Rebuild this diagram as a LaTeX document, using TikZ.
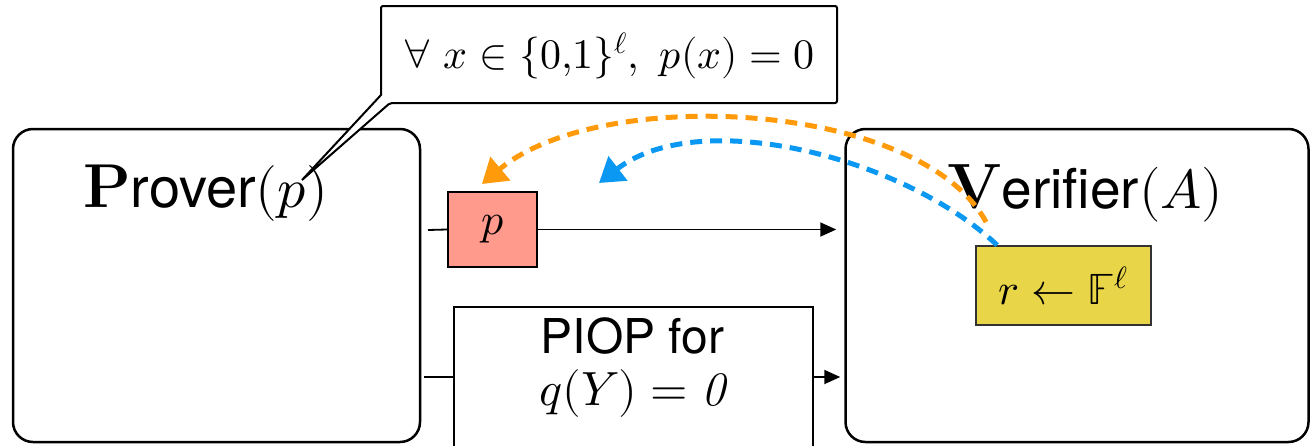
\documentclass[tikz,border=0pt]{standalone}
\usepackage{fontspec}
\usepackage{unicode-math}
\setmathfont{Latin Modern Math}
\setsansfont{TeX Gyre Heros}
\usetikzlibrary{arrows.meta,calc}
\definecolor{salmon}{HTML}{FF9A8C}
\definecolor{ybox}{HTML}{E8D548}
\definecolor{oarc}{HTML}{FF9A0A}
\definecolor{barc}{HTML}{0A98F2}
\begin{document}
\begin{tikzpicture}[x=1pt,y=-1pt,
  party/.style={draw,line width=2.5pt,rounded corners=20pt,inner sep=0pt},
  plainbox/.style={draw,line width=2pt,inner sep=0pt},
  arr/.style={line width=1.8pt,-{Triangle[length=16pt,width=14pt]}},
  ln/.style={line width=1.8pt},
  darc/.style={line width=5pt,dash pattern=on 12pt off 8pt,-{Triangle[length=24pt,width=30pt]}}]
\useasboundingbox (0,0) rectangle (1310,445);
% parties
\node[party,minimum width=407pt,minimum height=313pt] (prover) at (216.5,285.5) {};
\node[party,minimum width=463pt,minimum height=313pt] (verifier) at (1077,285.5) {};
\node[anchor=base west,inner sep=0pt,font=\sffamily\fontsize{56}{60}\selectfont] (ptext) at (83,207)
  {{\rmfamily\bfseries\fontsize{62}{66}\selectfont P}rover$(p)$};
\node[anchor=base west,inner sep=0pt,font=\sffamily\fontsize{55}{60}\selectfont] (vtext) at (947,208)
  {{\rmfamily\bfseries\fontsize{64}{66}\selectfont V}erifier$(A)$};
% message p
\node[plainbox,fill=salmon,minimum width=89pt,minimum height=75pt] (pbox) at (492.5,229.5)
  {\fontsize{44}{48}\selectfont$p$};
\coordinate (pstart) at (428,230);
\draw[ln] (pstart) -- (pbox.west);
\draw[arr] (pbox.east) -- ($(pbox.east -| verifier.west)+(-8,0)$);
% PIOP box
\node[plainbox,fill=white,minimum width=359pt,minimum height=160pt,anchor=north west] (piop) at (453,306) {};
\node[align=center,inner sep=0pt,font=\sffamily\fontsize{48}{56}\selectfont] (piopt) at (632.5,368)
  {PIOP for\\[-4pt] $q(Y)=\mathit{0}$};
\coordinate (qstart) at (424,377);
\draw[ln] (qstart) -- (qstart -| piop.west);
\draw[arr] (qstart -| piop.east) -- ($(qstart -| verifier.west)+(-4,0)$);
% verifier random box
\node[plainbox,line width=1.8pt,draw=black!80,fill=ybox,minimum width=175pt,minimum height=79pt] (rbox) at (1063.5,285.5)
  {\fontsize{44}{48}\selectfont$r\leftarrow\mathbb{F}^{\ell}$};
% callout
\coordinate (tip) at (302,180);
\draw[line width=2pt,fill=white,line join=miter,rounded corners=2pt] (381,95) -- (381,6) -- (837,6) -- (837,103) -- (390,103) [sharp corners] -- (tip) -- cycle;
\node[inner sep=0pt,font=\fontsize{42}{46}\selectfont] (claim) at (609,56)
  {$\forall\ x\in\{0{,}1\}^{\ell},\ p(x)=0$};
% dashed arcs
\coordinate (oend) at (482,184);
\coordinate (bend) at (599,183);
\draw[darc,oarc] ($(rbox.north west)+(11,-23)$) .. controls (920,100) and (600,85) .. (oend);
\draw[darc,barc] ($(rbox.north west)+(22,0)$) .. controls (905,158) and (700,105) .. (bend);
\end{tikzpicture}
\end{document}
